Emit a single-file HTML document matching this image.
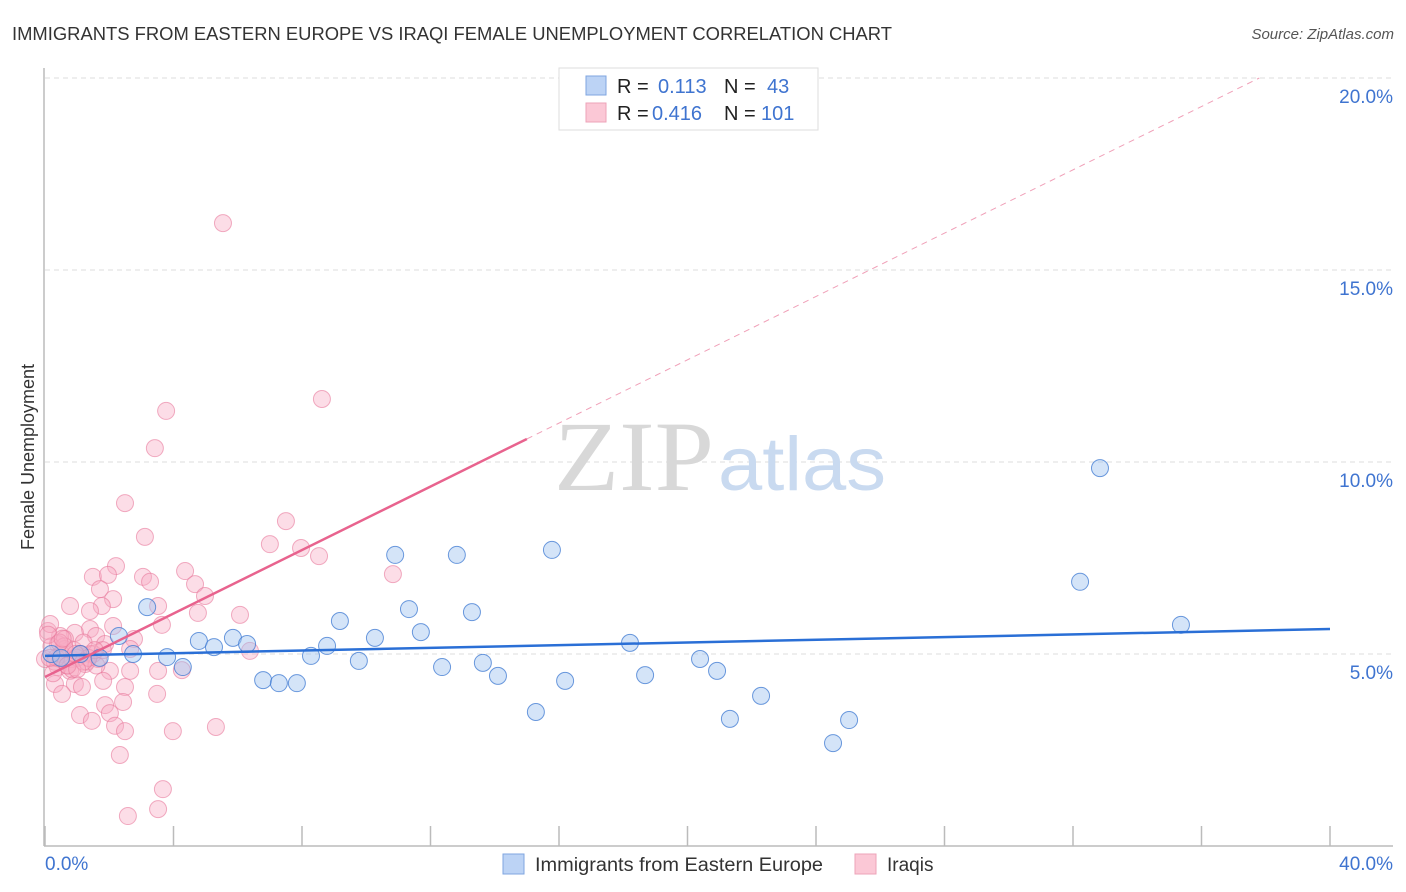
<!DOCTYPE html>
<html><head><meta charset="utf-8">
<style>
body{margin:0;background:#fff;font-family:"Liberation Sans",sans-serif;}
#wrap{position:relative;width:1406px;height:892px;overflow:hidden;}
</style></head>
<body>
<div id="wrap">
<svg id="chart" width="1406" height="892" xmlns="http://www.w3.org/2000/svg">
<text x="12" y="40" font-size="18" fill="#333" textLength="880" lengthAdjust="spacingAndGlyphs">IMMIGRANTS FROM EASTERN EUROPE VS IRAQI FEMALE UNEMPLOYMENT CORRELATION CHART</text>
<text x="1394" y="39" font-size="15" fill="#555" font-style="italic" text-anchor="end">Source: ZipAtlas.com</text>
<text x="34" y="457" font-size="18" fill="#333" text-anchor="middle" transform="rotate(-90 34 457)">Female Unemployment</text>
<g id="grid"></g>
<g id="axes"></g>
<text x="554" y="490" font-size="100" fill="#d8d8d8" font-family="Liberation Serif,serif" textLength="160" lengthAdjust="spacingAndGlyphs">ZIP</text>
<text x="718" y="490" font-size="76" fill="#c9daf0" textLength="168" lengthAdjust="spacingAndGlyphs">atlas</text>
<g id="pts"></g>
<g id="lines"></g>
<g>
<rect x="559" y="68" width="259" height="62" fill="#fff" stroke="#ddd"/>
<rect x="586" y="76" width="20" height="19" fill="#bcd3f5" stroke="#7fa6e0"/>
<rect x="586" y="103" width="20" height="19" fill="#fbc8d6" stroke="#eea3b8"/>
<text x="617" y="93" font-size="20" fill="#222">R =</text><text x="658" y="93" font-size="20" fill="#3f74d0">0.113</text>
<text x="724" y="93" font-size="20" fill="#222">N =</text><text x="767" y="93" font-size="20" fill="#3f74d0">43</text>
<text x="617" y="120" font-size="20" fill="#222">R =</text><text x="652" y="120" font-size="20" fill="#3f74d0">0.416</text>
<text x="724" y="120" font-size="20" fill="#222">N =</text><text x="761" y="120" font-size="20" fill="#3f74d0">101</text>
</g>
<g>
<rect x="503" y="854" width="21" height="20" fill="#bcd3f5" stroke="#7fa6e0"/>
<text x="535" y="871" font-size="19" fill="#333" textLength="288" lengthAdjust="spacingAndGlyphs">Immigrants from Eastern Europe</text>
<rect x="855" y="854" width="21" height="20" fill="#fbc8d6" stroke="#eea3b8"/>
<text x="887" y="871" font-size="19" fill="#333">Iraqis</text>
</g>
</svg>
</div>
<script>
const blueX=[3.18,2.30,2.74,3.80,4.29,4.79,5.26,5.85,6.29,6.79,7.28,7.84,8.28,8.78,9.18,9.77,10.27,10.90,11.33,11.70,12.36,12.82,13.29,13.63,14.10,15.28,15.78,16.19,18.21,18.68,20.39,20.92,21.32,22.29,24.53,25.03,32.22,32.84,35.36,0.2,0.5,1.1,1.7];
const blueY=[6.22,5.47,5.00,4.92,4.66,5.34,5.18,5.42,5.26,4.32,4.24,4.24,4.95,5.21,5.86,4.82,5.42,7.58,6.17,5.57,4.66,7.58,6.09,4.77,4.43,3.49,7.71,4.30,5.29,4.45,4.87,4.56,3.31,3.91,2.68,3.28,6.88,9.84,5.76,5.0,4.9,5.0,4.9];
const pinkX=[5.54,8.62,3.77,3.42,2.49,7.50,3.11,7.00,7.97,8.53,2.21,4.36,1.49,1.96,10.83,3.05,3.27,4.67,1.71,4.98,2.12,0.78,1.77,3.52,1.40,4.76,6.07,2.12,1.40,3.64,0.93,1.59,0.47,2.77,0.09,0.40,0.62,1.09,1.87,6.38,1.25,0.47,0.78,2.02,2.65,3.52,4.26,0.31,0.93,1.81,2.49,1.15,3.49,2.43,1.87,2.02,1.09,1.46,2.18,3.98,5.32,2.49,2.33,3.67,3.52,2.58,0.16,0.62,1.40,0.40,0.00,1.65,2.65,0.84,0.53,0.2,0.3,0.5,0.7,0.9,1.0,1.2,1.3,1.5,1.6,1.8,0.1,0.35,0.6,0.85,1.1,1.35,1.55,0.25,0.45,0.7,0.95,1.2,0.15,0.55,1.0];
const pinkY=[16.22,11.64,11.33,10.36,8.93,8.46,8.05,7.86,7.76,7.55,7.29,7.16,7.01,7.06,7.08,7.01,6.88,6.82,6.69,6.51,6.43,6.25,6.25,6.25,6.12,6.07,6.02,5.73,5.65,5.76,5.55,5.47,5.47,5.39,5.60,5.26,5.13,5.00,5.26,5.08,4.74,4.87,4.56,4.56,4.56,4.56,4.58,4.22,4.22,4.30,4.14,4.14,3.96,3.75,3.67,3.46,3.41,3.26,3.13,2.99,3.10,2.99,2.37,1.48,0.96,0.78,5.78,5.39,5.00,4.66,4.87,4.87,5.13,4.87,3.96,5.2,4.8,5.0,4.7,5.1,4.9,5.3,4.8,5.0,4.7,5.1,5.5,4.9,5.2,4.6,5.0,4.9,5.1,4.5,5.3,4.7,5.0,4.8,4.9,5.4,4.6];
const blueLine=[[0,4.95],[40,5.65]];
const pinkLine=[[0,4.40],[15,10.6]];
const pinkDash=[[15,10.6],[37.8,20.0]];
const yTicks=[5,10,15,20];
const yTickLabels=["5.0%","10.0%","15.0%","20.0%"];
const xTickVals=[0,4,8,12,16,20,24,28,32,36,40];
const xEndLabels=["0.0%","40.0%"];
const NS="http://www.w3.org/2000/svg";
const sx=v=>45+v*(1285/40);
const sy=v=>846-v*38.4;
function mk(tag,attrs,parent){const e=document.createElementNS(NS,tag);for(const k in attrs)e.setAttribute(k,attrs[k]);parent.appendChild(e);return e;}
const grid=document.getElementById('grid'),axes=document.getElementById('axes'),pts=document.getElementById('pts'),lines=document.getElementById('lines');
yTicks.forEach((t,i)=>{
 const l=mk('line',{x1:45,x2:1393,y1:sy(t),y2:sy(t),stroke:'#ddd','stroke-dasharray':'5,4'},grid);
 
 
 const tx=mk('text',{x:1393,y:sy(t)+25,'font-size':19,fill:'#3f74d0','text-anchor':'end'},axes);
 tx.textContent=yTickLabels[i];
 
 
});
const ya=mk('line',{x1:44,x2:44,y1:68,y2:846,stroke:'#bbb','stroke-width':1.5},axes);


const xa=mk('line',{x1:44,x2:1393,y1:846,y2:846,stroke:'#bbb','stroke-width':1.5},axes);


xTickVals.forEach(v=>{
 const t=mk('line',{x1:sx(v),x2:sx(v),y1:826,y2:846,stroke:'#bbb','stroke-width':1.5},axes);
 
 
});
const l0=mk('text',{x:45,y:870,'font-size':19,fill:'#3f74d0'},axes);l0.textContent=xEndLabels[0];


const l1=mk('text',{x:1393,y:870,'font-size':19,fill:'#3f74d0','text-anchor':'end'},axes);l1.textContent=xEndLabels[1];


pinkX.forEach((x,i)=>{
 const c=mk('circle',{cx:sx(x),cy:sy(pinkY[i]),r:8.5,fill:'rgba(248,170,195,0.4)',stroke:'rgba(232,120,155,0.6)','stroke-width':1},pts);
 
 
});
blueX.forEach((x,i)=>{
 const c=mk('circle',{cx:sx(x),cy:sy(blueY[i]),r:8.5,fill:'rgba(160,195,240,0.45)',stroke:'rgba(60,120,210,0.75)','stroke-width':1},pts);
 
 
});
const bl=mk('line',{x1:sx(blueLine[0][0]),y1:sy(blueLine[0][1]),x2:sx(blueLine[1][0]),y2:sy(blueLine[1][1]),stroke:'#2a6fd6','stroke-width':2.5},lines);


const pl=mk('line',{x1:sx(pinkLine[0][0]),y1:sy(pinkLine[0][1]),x2:sx(pinkLine[1][0]),y2:sy(pinkLine[1][1]),stroke:'#e8638e','stroke-width':2.5},lines);


const pd=mk('line',{x1:sx(pinkDash[0][0]),y1:sy(pinkDash[0][1]),x2:sx(pinkDash[1][0]),y2:sy(pinkDash[1][1]),stroke:'#f0a0b8','stroke-width':1,'stroke-dasharray':'6,5'},lines);


</script>
</body></html>
